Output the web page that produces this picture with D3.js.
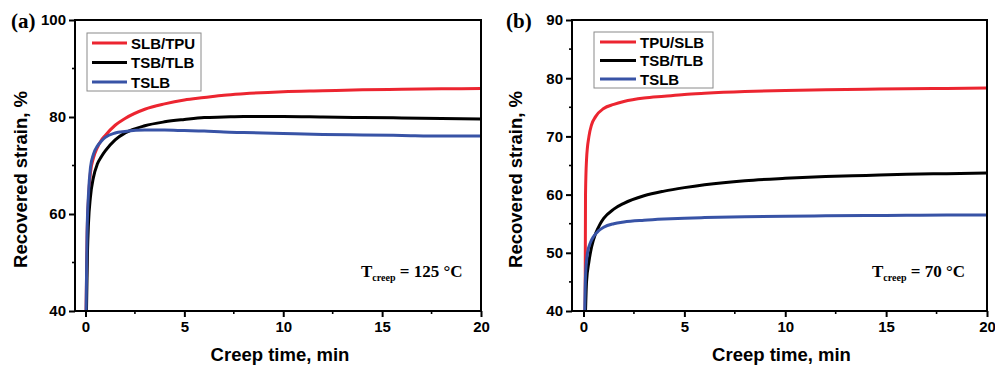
<!DOCTYPE html>
<html><head><meta charset="utf-8">
<script src="https://cdn.jsdelivr.net/npm/d3@7"></script>
<style>
html,body{margin:0;padding:0;background:#fff;}
svg{display:block;}
</style></head>
<body>
<svg id="chart" width="995" height="365"></svg>
<script>
// ---------- DATA ----------
const seriesNamesA = ["SLB/TPU", "TSB/TLB", "TSLB"];
const seriesNamesB = ["TPU/SLB", "TSB/TLB", "TSLB"];
const seriesColors = ["#ec2530", "#000000", "#3853a6"];

const xTicks = [0, 5, 10, 15, 20];
const yTicksA = [40, 60, 80, 100];
const yTicksB = [40, 50, 60, 70, 80, 90];

// panel (a)
const aRedX   = [0.03, 0.08, 0.15, 0.25, 0.4, 0.6, 0.8, 1, 1.5, 2, 3, 4, 5, 6, 7, 8, 10, 12, 14, 16, 18, 20];
const aRedY   = [40, 55, 63, 68.5, 71.5, 73.7, 75.2, 76.2, 78.3, 79.7, 81.6, 82.7, 83.5, 84.0, 84.5, 84.8, 85.2, 85.4, 85.6, 85.7, 85.8, 85.9];
const aBlackX = [0.05, 0.1, 0.15, 0.25, 0.4, 0.6, 0.8, 1, 1.5, 2, 3, 4, 5, 6, 7, 8, 10, 12, 14, 16, 18, 20];
const aBlackY = [40, 52, 58, 63.5, 67.5, 70.3, 71.8, 73.0, 75.3, 76.7, 78.2, 79.0, 79.5, 79.9, 80.0, 80.1, 80.1, 80.0, 79.9, 79.8, 79.7, 79.6];
const aBlueX  = [0.03, 0.08, 0.15, 0.25, 0.4, 0.6, 0.8, 1, 1.5, 2, 3, 4, 5, 6, 7, 8, 10, 12, 14, 16, 18, 20];
const aBlueY  = [40, 56, 64, 69.5, 72.3, 74.0, 75.0, 75.8, 76.7, 77.0, 77.3, 77.3, 77.2, 77.1, 76.9, 76.8, 76.6, 76.4, 76.3, 76.2, 76.1, 76.1];

// panel (b)
const bRedX   = [0.08, 0.1, 0.15, 0.27, 0.4, 0.6, 1, 1.5, 2, 3, 4, 5, 6, 8, 10, 12, 14, 16, 18, 20];
const bRedY   = [40, 60, 66, 70, 72, 73.4, 74.8, 75.5, 76.0, 76.6, 76.9, 77.2, 77.4, 77.7, 77.9, 78.0, 78.1, 78.2, 78.25, 78.3];
const bBlackX = [0.1, 0.15, 0.27, 0.4, 0.6, 0.8, 1, 1.5, 2, 3, 4, 5, 6, 8, 10, 12, 14, 16, 18, 20];
const bBlackY = [40, 45, 48.5, 51, 53.3, 54.8, 55.9, 57.5, 58.5, 59.8, 60.6, 61.2, 61.7, 62.4, 62.8, 63.1, 63.3, 63.5, 63.6, 63.7];
const bBlueX  = [0.06, 0.1, 0.2, 0.35, 0.5, 0.75, 1, 1.5, 2, 3, 4, 5, 6, 8, 10, 12, 14, 16, 18, 20];
const bBlueY  = [40, 46, 50, 51.8, 52.8, 53.8, 54.4, 55.0, 55.3, 55.6, 55.8, 55.95, 56.05, 56.2, 56.3, 56.35, 56.4, 56.45, 56.5, 56.5];

// ---------- DRAW ----------
const svg = d3.select("#chart");
const zip = (xs, ys) => xs.map((x, i) => ({x: x, y: ys[i]}));
const SANS = "'Liberation Sans', Arial, sans-serif";
const SERIF = "'Liberation Serif', 'Times New Roman', serif";

function panel(cfg) {
  const g = svg.append("g");
  const x = d3.scaleLinear().domain([cfg.xmin, 20]).range([cfg.left, cfg.right]);
  const y = d3.scaleLinear().domain([cfg.ymin, cfg.ymax]).range([cfg.bottom, cfg.top]);

  // curves
  const line = d3.line().x(d => x(d.x)).y(d => y(d.y)).curve(d3.curveMonotoneX);
  cfg.series.forEach((s, i) => {
    g.append("path").datum(zip(s[0], s[1]))
      .attr("fill", "none").attr("stroke", seriesColors[i])
      .attr("stroke-width", 3).attr("stroke-linejoin", "round")
      .attr("d", line);
  });

  // minor ticks
  const xMinor = xTicks.slice(0, -1).map(v => v + 2.5);
  g.selectAll(".xm").data(xMinor).enter().append("line")
    .attr("x1", d => x(d)).attr("x2", d => x(d))
    .attr("y1", cfg.bottom).attr("y2", cfg.bottom + 3)
    .attr("stroke", "#000").attr("stroke-width", 1.6);
  const yStep = cfg.yTicks[1] - cfg.yTicks[0];
  const yMinor = cfg.yTicks.slice(0, -1).map(v => v + yStep / 2);
  g.selectAll(".ym").data(yMinor).enter().append("line")
    .attr("x1", cfg.left).attr("x2", cfg.left - 3)
    .attr("y1", d => y(d)).attr("y2", d => y(d))
    .attr("stroke", "#000").attr("stroke-width", 1.6);

  // axes
  const xAxis = g.append("g").attr("transform", `translate(0,${cfg.bottom})`)
    .call(d3.axisBottom(x).tickValues(xTicks).tickSize(6).tickPadding(4).tickSizeOuter(0));
  const yAxis = g.append("g").attr("transform", `translate(${cfg.left},0)`)
    .call(d3.axisLeft(y).tickValues(cfg.yTicks).tickSize(6).tickPadding(3).tickSizeOuter(0));
  [xAxis, yAxis].forEach(ax => {
    ax.select(".domain").remove();
    ax.selectAll("line").attr("stroke", "#000").attr("stroke-width", 2);
    ax.selectAll("text").attr("fill", "#000")
      .style("font-family", SANS)
      .style("font-weight", "bold").style("font-size", "15px");
  });

  // frame
  g.append("rect").attr("x", cfg.left).attr("y", cfg.top)
    .attr("width", cfg.right - cfg.left).attr("height", cfg.bottom - cfg.top)
    .attr("fill", "none").attr("stroke", "#000").attr("stroke-width", 2);

  // axis titles
  g.append("text").attr("x", (cfg.left + cfg.right) / 2 + 2).attr("y", 361)
    .attr("text-anchor", "middle")
    .style("font-family", SANS)
    .style("font-weight", "bold").style("font-size", "18.5px")
    .text("Creep time, min");
  g.append("text")
    .attr("transform", `translate(${cfg.ytitleX},${(cfg.top + cfg.bottom) / 2 + 14}) rotate(-90)`)
    .attr("text-anchor", "middle")
    .style("font-family", SANS)
    .style("font-weight", "bold").style("font-size", "18.5px")
    .text("Recovered strain, %");

  // panel label
  g.append("text").attr("x", cfg.labelX).attr("y", 28)
    .style("font-family", SERIF)
    .style("font-weight", "bold").style("font-size", "21px")
    .text(cfg.label);

  // legend
  const L = cfg.legend;
  g.append("rect").attr("x", L.x).attr("y", L.y).attr("width", L.w).attr("height", L.h)
    .attr("fill", "#fff").attr("stroke", "#8a8a8a").attr("stroke-width", 1);
  cfg.names.forEach((n, i) => {
    const yy = L.y + 10 + i * L.dy;
    g.append("line").attr("x1", L.x + L.lx1).attr("x2", L.x + L.lx2)
      .attr("y1", yy).attr("y2", yy)
      .attr("stroke", seriesColors[i]).attr("stroke-width", 3);
    g.append("text").attr("x", L.x + L.tx).attr("y", yy + 5.5)
      .style("font-family", SANS)
      .style("font-weight", "bold").style("font-size", "15px")
      .text(n);
  });

  // annotation
  const t = g.append("text").attr("x", cfg.annX).attr("y", 277)
    .style("font-family", SERIF)
    .style("font-weight", "bold").style("font-size", "17px");
  t.append("tspan").text("T");
  t.append("tspan").attr("dy", 4).style("font-size", "10px").text("creep");
  t.append("tspan").attr("dy", -4).text(" = " + cfg.temp + " \u00B0C");
}

panel({
  left: 75, right: 481, top: 20, bottom: 311, xmin: -0.53,
  ymin: 40, ymax: 100, yTicks: yTicksA,
  series: [[aRedX, aRedY], [aBlackX, aBlackY], [aBlueX, aBlueY]],
  names: seriesNamesA, label: "(a)", labelX: 11, ytitleX: 27,
  legend: {x: 87, y: 33, w: 114, h: 58, dy: 19.5, lx1: 5, lx2: 40, tx: 44},
  annX: 361, temp: "125"
});

panel({
  left: 572, right: 987, top: 20, bottom: 311, xmin: -0.57,
  ymin: 40, ymax: 90, yTicks: yTicksB,
  series: [[bRedX, bRedY], [bBlackX, bBlackY], [bBlueX, bBlueY]],
  names: seriesNamesB, label: "(b)", labelX: 506, ytitleX: 522,
  legend: {x: 594, y: 32, w: 119, h: 56, dy: 18.5, lx1: 6, lx2: 42, tx: 46},
  annX: 872, temp: "70"
});
</script>
</body></html>
